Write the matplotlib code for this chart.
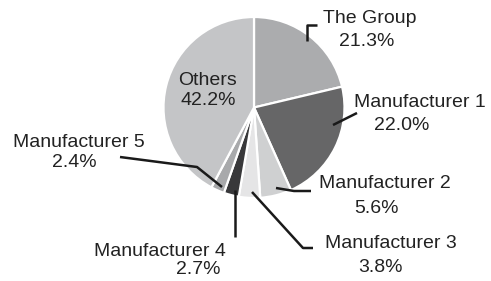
import matplotlib

matplotlib.use("Agg")
import matplotlib.pyplot as plt

labels = ["The Group", "Manufacturer 1", "Manufacturer 2", "Manufacturer 3",
          "Manufacturer 4", "Manufacturer 5", "Others"]
shares = [21.3, 22.0, 5.6, 3.8, 2.7, 2.4, 42.2]
colors = ["#abacae", "#666667", "#cfd0d1", "#e5e5e6", "#38383a", "#a8a9ab", "#c4c5c7"]

W, H = 491, 281
fig = plt.figure(figsize=(W / 100, H / 100), dpi=100)
ax = fig.add_axes([0, 0, 1, 1])

cx, cy, r = 254, 107.5, 90.5
# y axis is inverted, so counterclock=True draws clockwise on screen; startangle -90 => top
ax.pie(shares, colors=colors, startangle=-90, counterclock=True, center=(cx, cy),
       radius=r, wedgeprops=dict(edgecolor="white", linewidth=1.6), frame=True)
ax.set_xlim(0, W)
ax.set_ylim(H, 0)
ax.set_aspect("equal")
ax.axis("off")

font = dict(family="Liberation Sans", fontsize=14, color="#222222")

# (name x, name baseline, pct x, pct baseline)
texts = {
    "The Group": (370, 23, 367, 46),
    "Manufacturer 1": (420, 107, 402, 130),
    "Manufacturer 2": (385, 188, 376, 213),
    "Manufacturer 3": (391, 248, 380, 272),
    "Manufacturer 4": (160, 256, 198, 274),
    "Manufacturer 5": (79, 147, 74, 167),
    "Others": (208, 85, 208, 105),
}
leaders = {
    "The Group": [(307, 41), (307, 25), (317, 25)],
    "Manufacturer 1": [(333, 125), (357, 113)],
    "Manufacturer 2": [(276, 188), (294, 191), (311, 191)],
    "Manufacturer 3": [(252, 192), (303, 248), (313, 248)],
    "Manufacturer 4": [(235, 190), (235, 237)],
    "Manufacturer 5": [(222, 187), (197, 167), (120, 157)],
}

for name, pct in zip(labels, shares):
    x1, y1, x2, y2 = texts[name]
    ax.text(x1, y1, name, ha="center", va="baseline", **font)
    ax.text(x2, y2, f"{pct:.1f}%", ha="center", va="baseline", **font)
    if name in leaders:
        xs, ys = zip(*leaders[name])
        ax.plot(xs, ys, color="#1a1a1a", linewidth=1.8, solid_capstyle="butt")

fig.savefig("out.png", dpi=100)
